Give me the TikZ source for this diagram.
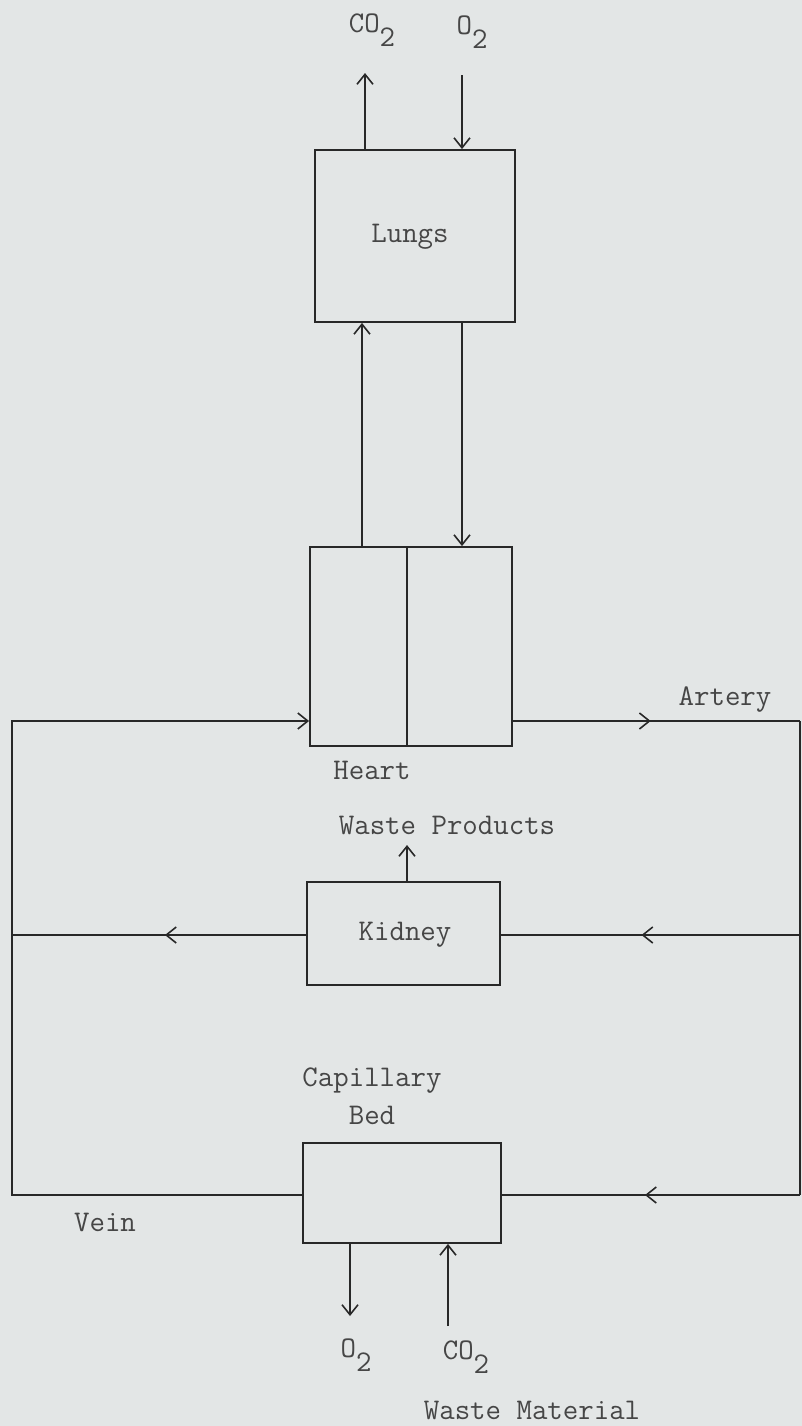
\documentclass[tikz,border=0pt]{standalone}
\usepackage{fontspec}
\usepackage{tikz}
\usetikzlibrary{arrows.meta,positioning,calc,decorations.markings}
\definecolor{paper}{RGB}{227, 230, 230}
\definecolor{inkline}{RGB}{40, 40, 40}
\definecolor{inktext}{RGB}{70, 70, 70}
\newcommand{\sub}[1]{\raisebox{-1.1ex}{#1}}

\tikzset{
    organ/.style={draw=inkline, line width=0.9pt, inner sep=0pt},
    flow/.style={draw=inkline, line width=0.8pt},
    barb/.style={-{Straight Barb[length=5pt,width=8pt]}},
    midbarb/.style={postaction={decorate},
        decoration={markings, mark=at position #1 with {\arrow{Straight Barb[length=5pt,width=8pt]}}}},
    lbl/.style={text=inktext, font=\ttfamily\fontsize{15}{19}\selectfont, inner sep=1pt}
}

\begin{document}
\begin{tikzpicture}[x=0.5pt,y=-0.5pt]
    \fill[paper] (0,0) rectangle (802,1426);
    \useasboundingbox (0,0) rectangle (802,1426);

    % boxes
    \node[organ, minimum width=100pt, minimum height=86pt] (lungs) at (415,236) {};
    \node[organ, minimum width=48.5pt, minimum height=99.5pt] (heartL) at (358.5,646.5) {};
    \node[organ, minimum width=52.5pt, minimum height=99.5pt] (heartR) at (459.5,646.5) {};
    \node[organ, minimum width=96.5pt, minimum height=51.5pt] (kidney) at (403.5,933.5) {};
    \node[organ, minimum width=99pt, minimum height=50pt] (capbed) at (402,1193) {};

    % labels
    \node[lbl] (lungsT) at (410,237) {Lungs};
    \node[lbl] (heartT) at (372,770) {Heart};
    \node[lbl] (kidneyT) at (405,935) {Kidney};
    \node[lbl] (arteryT) at (725,700) {Artery};
    \node[lbl] (wasteP) at (447,825) {Waste Products};
    \node[lbl, align=center] (capT) at (372,1096) {Capillary\\Bed};
    \node[lbl] (veinT) at (105,1222) {Vein};
    \node[lbl] (co2top) at (372,30) {CO\sub{2}};
    \node[lbl] (o2top) at (472,32) {O\sub{2}};
    \node[lbl] (o2bot) at (356,1355) {O\sub{2}};
    \node[lbl] (co2bot) at (466,1357) {CO\sub{2}};
    \node[lbl] (wasteM) at (532,1410) {Waste Material};

    % free ends and corners
    \coordinate (co2out) at (365,73);
    \coordinate (o2in) at (462,75);
    \coordinate (up1) at (362,0);
    \coordinate (dn1) at (462,0);
    \coordinate (wasteup) at (407,845);
    \coordinate (o2out) at (350,1316);
    \coordinate (co2in) at (448,1326);
    \coordinate (veinTL) at (12,721);
    \coordinate (veinBL) at (12,1195);
    \coordinate (kidL) at (12,935);
    \coordinate (artR) at (800,721);
    \coordinate (capR) at (800,1195);
    \coordinate (kidR) at (800,935);

    % lungs gas exchange
    \draw[flow, barb] (lungs.north -| co2out) -- (co2out);
    \draw[flow, barb] (o2in) -- (lungs.north -| o2in);

    % lungs <-> heart
    \draw[flow, barb] (heartL.north -| up1) -- (lungs.south -| up1);
    \draw[flow, barb] (lungs.south -| dn1) -- (heartR.north -| dn1);

    % artery side
    \draw[flow, midbarb=0.48] (heartR.east |- artR) -- (artR);
    \draw[flow] (artR) -- (capR);
    \draw[flow, midbarb=0.53] (kidR) -- (kidney.east |- kidR);
    \draw[flow, midbarb=0.52] (capR) -- (capbed.east |- capR);

    % vein side
    \draw[flow, midbarb=0.48] (kidney.west |- kidL) -- (kidL);
    \draw[flow, barb] (capbed.west |- veinBL) -- (veinBL) -- (veinTL) -- (heartL.west |- veinTL);

    % kidney and tissue exchange
    \draw[flow, barb] (kidney.north -| wasteup) -- (wasteup);
    \draw[flow, barb] (capbed.south -| o2out) -- (o2out);
    \draw[flow, barb] (co2in) -- (capbed.south -| co2in);
\end{tikzpicture}
\end{document}
